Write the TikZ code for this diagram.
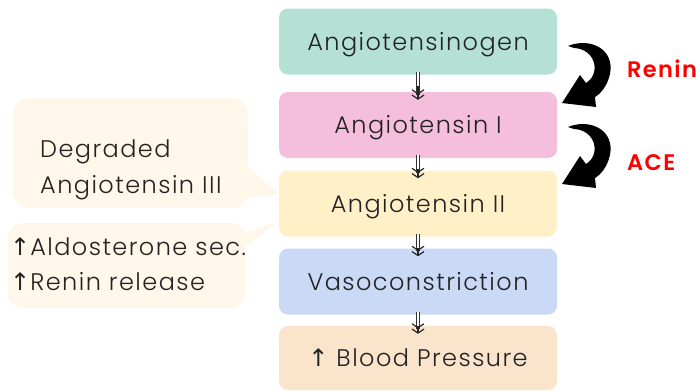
\documentclass[tikz,border=0pt]{standalone}
\usepackage{fontspec}
\setmainfont{Poppins}[UprightFont=* Light, BoldFont=* SemiBold, LetterSpace=6]
\newfontfamily\symf{DejaVu Sans}
\usetikzlibrary{arrows.meta,calc}
\definecolor{cteal}{HTML}{B4E1D4}
\definecolor{cpink}{HTML}{F4BEDC}
\definecolor{cyell}{HTML}{FFF0C8}
\definecolor{cblue}{HTML}{C9D9F6}
\definecolor{cpeach}{HTML}{FAE4CC}
\definecolor{ccall}{HTML}{FFF8EA}
\definecolor{ctext}{HTML}{222222}
\definecolor{cred}{HTML}{FF0000}
\tikzset{
  stepbox/.style={rounded corners=9pt, minimum width=278pt, minimum height=66pt,
    inner sep=0pt, text=ctext, font=\fontsize{24}{28}\selectfont,
    text height=20pt, text depth=3pt},
  calltext/.style={anchor=base west, inner sep=0pt, text=ctext, font=\fontsize{24}{28}\selectfont},
  enztext/.style={anchor=base west, inner sep=0pt, text=cred, font=\fontsize{22.5}{26}\selectfont\bfseries},
  shaft/.style={draw=black!80, double=white, double distance=2.6pt, line width=1pt},
  chev/.style={draw=black!85, line width=1.2pt, shorten <=14pt,
    -{Straight Barb[length=4pt,width=12pt]Straight Barb[length=4pt,width=12pt]}},
  curvarrow/.pic={
    \fill[black] (0,0) .. controls (22,-9) and (47,3) .. (42,28)
      .. controls (39,41) and (32,48) .. (27,51)
      -- (28,61) -- (-6,57) -- (12,29) -- (18,37)
      .. controls (33,28) and (28,3) .. (6,2) -- cycle;
  }
}
\begin{document}
\begin{tikzpicture}[x=1pt,y=-1pt]
\useasboundingbox (0,0) rectangle (696,391);
% callouts
\fill[ccall, rounded corners=16pt] (13,98) rectangle (248,208);
\fill[ccall] (240,160) -- (279,194) -- (240,199) -- cycle;
\fill[ccall, rounded corners=14pt] (8,223) rectangle (245,308);
\fill[ccall] (238,236) -- (279,221) -- (238,252) -- cycle;
% boxes
\node[stepbox, fill=cteal] (ang) at (418,41.5) {Angiotensinogen};
\node[stepbox, fill=cpink] (a1) at (418,125) {Angiotensin I};
\node[stepbox, fill=cyell] (a2) at (418,203.5) {Angiotensin II};
\node[stepbox, fill=cblue] (vaso) at (418,281.5) {Vasoconstriction};
\node[stepbox, fill=cpeach, minimum height=64pt] (bp) at (418,358) {{\symf ↑} Blood Pressure};
% down arrows
\foreach \u/\v in {ang/a1, a1/a2, a2/vaso, vaso/bp}{
  \draw[shaft] ([yshift=3pt]\u.south) -- ([yshift=-3pt]\v.north);
  \draw[chev] ([yshift=3pt]\u.south) -- ([yshift=-8pt]\v.north);
}
% callout texts
\node[calltext] (deg1) at (40,157) {Degraded};
\node[calltext] (deg2) at (40,193) {Angiotensin III};
\node[calltext] (ald) at (10,255) {{\symf ↑}Aldosterone sec.};
\node[calltext] (ren) at (10,290) {{\symf ↑}Renin release};
% enzymes
\pic at (568,46) {curvarrow};
\pic at (568,127) {curvarrow};
\node[enztext] (renin) at (627,77) {Renin};
\node[enztext] (ace) at (627,170) {ACE};
\end{tikzpicture}
\end{document}
